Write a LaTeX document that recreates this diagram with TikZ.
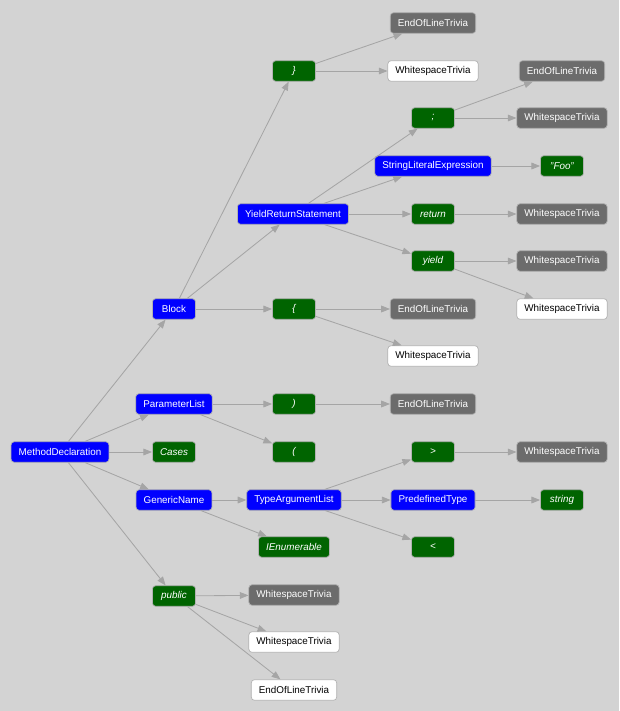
\documentclass[tikz,border=0pt]{standalone}
\usepackage{fontspec}
\setmainfont{Liberation Sans}
\usetikzlibrary{arrows.meta}
\definecolor{bg}{RGB}{211,211,211}
\definecolor{synblue}{RGB}{0,0,255}
\definecolor{syngreen}{RGB}{0,100,0}
\definecolor{syngray}{RGB}{108,108,108}
\definecolor{edgegray}{RGB}{165,165,165}
\tikzstyle{syn}=[rectangle,rounded corners=2.2pt,draw=black!30,line width=0.5pt,minimum width=30.6pt,minimum height=14.6pt,inner xsep=5.4pt,inner ysep=0pt,font=\fontsize{7}{8}\selectfont,text=white]
\tikzstyle{synnode}=[syn,fill=synblue]
\tikzstyle{token}=[syn,fill=syngreen,font=\fontsize{7}{8}\selectfont\itshape]
\tikzstyle{trailing}=[syn,fill=syngray]
\tikzstyle{leading}=[syn,fill=white,text=black]
\tikzstyle{flow}=[->,draw=edgegray,line width=0.6pt]

\begin{document}
\begin{tikzpicture}[x=0.025cm,y=-0.025cm,>={Triangle[length=6.2pt,width=4.8pt]}]
    \useasboundingbox[fill=bg] (0,0) rectangle (619,711);
    % syntax tree, one column per depth
    \node [synnode] (md)    at (60,452)  {MethodDeclaration};

    \node [synnode] (blk)   at (174,309) {Block};
    \node [synnode] (pl)    at (174,404) {ParameterList};
    \node [token]   (cases) at (174,452) {Cases};
    \node [synnode] (gn)    at (174,500) {GenericName};
    \node [token]   (pub)   at (174,596) {public};

    \node [token]    (rb)     at (294,71)  {\}};
    \node [synnode]  (yrs)    at (293,214) {YieldReturnStatement};
    \node [token]    (lb)     at (294,309) {\{};
    \node [token]    (rp)     at (294,404) {)};
    \node [token]    (lp)     at (294,452) {(};
    \node [synnode]  (tal)    at (294,500) {TypeArgumentList};
    \node [token]    (ienum)  at (294,547) {IEnumerable};
    \node [trailing] (pubws)  at (294,595) {WhitespaceTrivia};
    \node [leading]  (pubws2) at (294,642) {WhitespaceTrivia};
    \node [leading]  (pubeol) at (294,690) {EndOfLineTrivia};

    \node [trailing] (rbeol)  at (433,23)  {EndOfLineTrivia};
    \node [leading]  (rbws)   at (433,71)  {WhitespaceTrivia};
    \node [token]    (semi)   at (433,118) {;};
    \node [synnode]  (sle)    at (433,166) {StringLiteralExpression};
    \node [token]    (ret)    at (433,214) {return};
    \node [token]    (yld)    at (433,261) {yield};
    \node [trailing] (lbeol)  at (433,309) {EndOfLineTrivia};
    \node [leading]  (lbws)   at (433,356) {WhitespaceTrivia};
    \node [trailing] (rpeol)  at (433,404) {EndOfLineTrivia};
    \node [token]    (gt)     at (433,452) {>};
    \node [synnode]  (pdt)    at (433,500) {PredefinedType};
    \node [token]    (lt)     at (433,547) {<};

    \node [trailing] (semieol) at (562,71)  {EndOfLineTrivia};
    \node [trailing] (semiws)  at (562,118) {WhitespaceTrivia};
    \node [token]    (foo)     at (562,166) {"Foo"};
    \node [trailing] (retws)   at (562,214) {WhitespaceTrivia};
    \node [trailing] (yldws)   at (562,261) {WhitespaceTrivia};
    \node [leading]  (yldws2)  at (562,309) {WhitespaceTrivia};
    \node [trailing] (gtws)    at (562,452) {WhitespaceTrivia};
    \node [token]    (str)     at (562,500) {string};

    \path (md)  edge [flow] (blk) edge [flow] (pl) edge [flow] (cases)
                edge [flow] (gn) edge [flow] (pub)
          (blk) edge [flow] (rb) edge [flow] (yrs) edge [flow] (lb)
          (rb)  edge [flow] (rbeol) edge [flow] (rbws)
          (yrs) edge [flow] (semi) edge [flow] (sle) edge [flow] (ret) edge [flow] (yld)
          (semi) edge [flow] (semieol) edge [flow] (semiws)
          (sle) edge [flow] (foo)
          (ret) edge [flow] (retws)
          (yld) edge [flow] (yldws) edge [flow] (yldws2)
          (lb)  edge [flow] (lbeol) edge [flow] (lbws)
          (pl)  edge [flow] (rp) edge [flow] (lp)
          (rp)  edge [flow] (rpeol)
          (gn)  edge [flow] (tal) edge [flow] (ienum)
          (tal) edge [flow] (gt) edge [flow] (pdt) edge [flow] (lt)
          (gt)  edge [flow] (gtws)
          (pdt) edge [flow] (str)
          (pub) edge [flow] (pubws) edge [flow] (pubws2) edge [flow] (pubeol);
\end{tikzpicture}
\end{document}
